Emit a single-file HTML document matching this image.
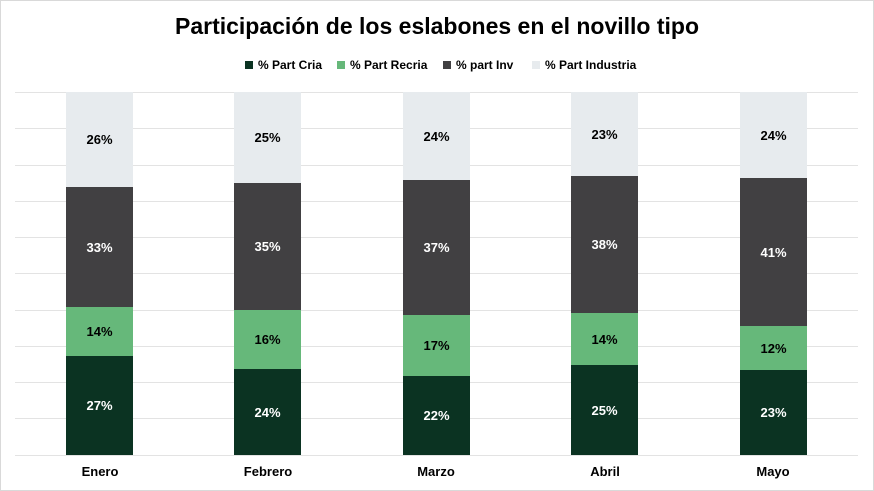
<!DOCTYPE html>
<html><head><meta charset="utf-8"><style>
body{margin:0;width:874px;height:491px;background:#fff;font-family:"Liberation Sans",sans-serif;position:relative;overflow:hidden}
.frame{position:absolute;left:0;top:0;width:872px;height:489px;border:1px solid #d9d9d9}
.t{position:absolute;left:0;width:874px;top:13px;text-align:center;font-size:23px;font-weight:bold;color:#000}
.lg{position:absolute;top:58px;font-size:12px;font-weight:bold;color:#000}
.lg i{display:inline-block;width:8px;height:8px;margin-right:5px;vertical-align:0}
.g{position:absolute;left:15px;width:843px;height:1px;background:#e3e3e3}
.b{position:absolute;width:67px;display:flex;align-items:center;justify-content:center;font-size:13px;font-weight:bold}
.x{position:absolute;top:464px;width:120px;text-align:center;font-size:13px;font-weight:bold}
</style></head><body>
<div class="frame"></div>
<div class="t">Participación de los eslabones en el novillo tipo</div>
<div class="lg" style="left:245px"><i style="background:#0b3322"></i>% Part Cria</div>
<div class="lg" style="left:337px"><i style="background:#66b87a"></i>% Part Recria</div>
<div class="lg" style="left:443px"><i style="background:#414042"></i>% part Inv</div>
<div class="lg" style="left:532px"><i style="background:#e7ebee"></i>% Part Industria</div>
<div class="g" style="top:92px"></div><div class="g" style="top:128px"></div><div class="g" style="top:165px"></div><div class="g" style="top:201px"></div><div class="g" style="top:237px"></div><div class="g" style="top:273px"></div><div class="g" style="top:310px"></div><div class="g" style="top:346px"></div><div class="g" style="top:382px"></div><div class="g" style="top:418px"></div><div class="g" style="top:455px"></div>

<div class="b" style="left:66px;top:92px;height:95px;background:#e7ebee">26%</div>
<div class="b" style="left:66px;top:187px;height:120px;background:#414042;color:#fff">33%</div>
<div class="b" style="left:66px;top:307px;height:49px;background:#66b87a">14%</div>
<div class="b" style="left:66px;top:356px;height:99px;background:#0b3322;color:#fff">27%</div>

<div class="b" style="left:234px;top:92px;height:91px;background:#e7ebee">25%</div>
<div class="b" style="left:234px;top:183px;height:127px;background:#414042;color:#fff">35%</div>
<div class="b" style="left:234px;top:310px;height:59px;background:#66b87a">16%</div>
<div class="b" style="left:234px;top:369px;height:86px;background:#0b3322;color:#fff">24%</div>

<div class="b" style="left:403px;top:92px;height:88px;background:#e7ebee">24%</div>
<div class="b" style="left:403px;top:180px;height:135px;background:#414042;color:#fff">37%</div>
<div class="b" style="left:403px;top:315px;height:61px;background:#66b87a">17%</div>
<div class="b" style="left:403px;top:376px;height:79px;background:#0b3322;color:#fff">22%</div>

<div class="b" style="left:571px;top:92px;height:84px;background:#e7ebee">23%</div>
<div class="b" style="left:571px;top:176px;height:137px;background:#414042;color:#fff">38%</div>
<div class="b" style="left:571px;top:313px;height:52px;background:#66b87a">14%</div>
<div class="b" style="left:571px;top:365px;height:90px;background:#0b3322;color:#fff">25%</div>

<div class="b" style="left:740px;top:92px;height:86px;background:#e7ebee">24%</div>
<div class="b" style="left:740px;top:178px;height:148px;background:#414042;color:#fff">41%</div>
<div class="b" style="left:740px;top:326px;height:44px;background:#66b87a">12%</div>
<div class="b" style="left:740px;top:370px;height:85px;background:#0b3322;color:#fff">23%</div>

<div class="x" style="left:40px">Enero</div>
<div class="x" style="left:208px">Febrero</div>
<div class="x" style="left:376px">Marzo</div>
<div class="x" style="left:545px">Abril</div>
<div class="x" style="left:713px">Mayo</div>
</body></html>
